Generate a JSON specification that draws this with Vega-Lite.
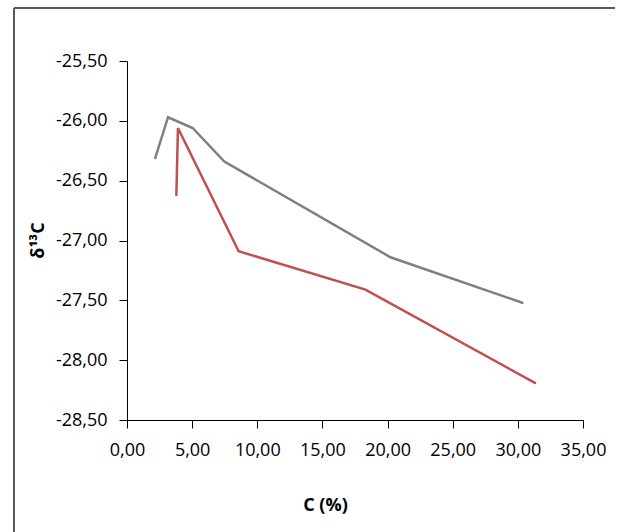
{
  "$schema": "https://vega.github.io/schema/vega-lite/v6.json",
  "usermeta": {"embedOptions": {"actions": false}},
  "autosize": {"type": "none"},
  "width": 456,
  "height": 359,
  "padding": {"left": 127, "top": 61, "right": 34, "bottom": 112},
  "background": "white",
  "config": {
    "view": {"stroke": null},
    "font": "Open Sans",
    "locale": {"number": {"decimal": ",", "thousands": ".", "grouping": [3], "currency": ["", ""], "minus": "-"}}
  },
  "data": {"values": [
    {"series": "A", "i": 1, "C": 2.17, "d13C": -26.31},
    {"series": "A", "i": 2, "C": 3.15, "d13C": -25.97},
    {"series": "A", "i": 3, "C": 5.04, "d13C": -26.06},
    {"series": "A", "i": 4, "C": 7.47, "d13C": -26.34},
    {"series": "A", "i": 5, "C": 20.22, "d13C": -27.14},
    {"series": "A", "i": 6, "C": 30.34, "d13C": -27.52},
    {"series": "B", "i": 1, "C": 3.79, "d13C": -26.62},
    {"series": "B", "i": 2, "C": 3.91, "d13C": -26.06},
    {"series": "B", "i": 3, "C": 8.57, "d13C": -27.09},
    {"series": "B", "i": 4, "C": 18.30, "d13C": -27.41},
    {"series": "B", "i": 5, "C": 31.31, "d13C": -28.19}
  ]},
  "layer": [
    {
      "mark": {"type": "rule", "color": "#595959", "strokeWidth": 1.75},
      "encoding": {
        "x": {"datum": -8.67, "type": "quantitative"},
        "y": {"datum": -25.059, "type": "quantitative"},
        "y2": {"datum": -30}
      }
    },
    {
      "mark": {"type": "rule", "color": "#595959", "strokeWidth": 1.75},
      "encoding": {
        "y": {"datum": -25.059, "type": "quantitative"},
        "x": {"datum": -8.67, "type": "quantitative"},
        "x2": {"datum": 37.4}
      }
    },
    {
      "mark": {"type": "line", "strokeWidth": 2.5, "strokeCap": "round", "strokeJoin": "miter"},
      "encoding": {
        "x": {
          "field": "C", "type": "quantitative",
          "scale": {"domain": [0, 35], "nice": false, "zero": false},
          "axis": {
            "title": "C (%)",
            "values": [0, 5, 10, 15, 20, 25, 30, 35],
            "format": ".2f",
            "labelOverlap": false,
            "labelFlush": false,
            "grid": false,
            "domainColor": "black", "tickColor": "black",
            "tickSize": 8, "labelPadding": 13,
            "labelFontSize": 18, "labelColor": "black", "labelFont": "Open Sans",
            "titleFontSize": 18, "titleFont": "Open Sans", "titleFontWeight": "bold", "titleColor": "black",
            "titleX": 198, "titleY": 90, "titleBaseline": "alphabetic", "titleAlign": "center"
          }
        },
        "y": {
          "field": "d13C", "type": "quantitative",
          "scale": {"domain": [-28.5, -25.5], "nice": false, "zero": false},
          "axis": {
            "title": "δ¹³C",
            "values": [-28.5, -28, -27.5, -27, -26.5, -26, -25.5],
            "format": ".2f",
            "labelOverlap": false,
            "labelFlush": false,
            "grid": false,
            "domainColor": "black", "tickColor": "black",
            "tickSize": 8, "labelPadding": 12,
            "labelFontSize": 18, "labelColor": "black", "labelFont": "Open Sans",
            "titleFontSize": 18, "titleFont": "Open Sans", "titleFontWeight": "bold", "titleColor": "black",
            "titleAngle": -90, "titleX": -84, "titleY": 179, "titleBaseline": "alphabetic", "titleAlign": "center"
          }
        },
        "order": {"field": "i", "type": "quantitative"},
        "color": {
          "field": "series", "type": "nominal",
          "scale": {"domain": ["A", "B"], "range": ["#7F7F7F", "#C0504D"]},
          "legend": null
        }
      }
    }
  ]
}
